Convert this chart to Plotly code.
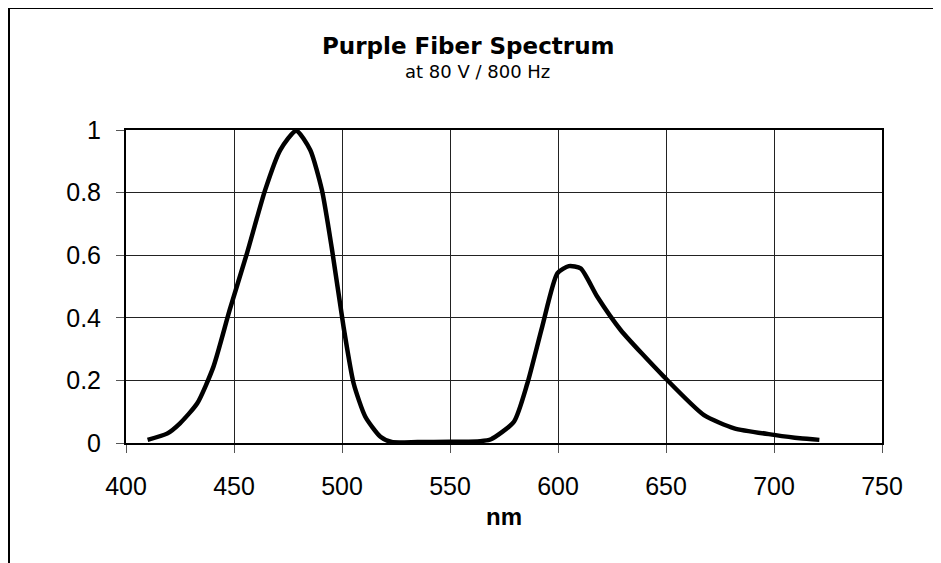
import plotly.graph_objects as go

wavelength_nm = [410, 419, 425, 433, 440.5, 448, 456, 464.4, 471.4, 478.8, 485.3, 490.7, 495.4,
                 500.7, 505.4, 510.8, 517.8, 523, 535, 550, 564, 569, 579.6, 585.8, 592.7,
                 599.7, 605, 610.5, 618.2, 629, 649, 667.6, 681.6, 700, 712, 721]
intensity = [0.01, 0.03, 0.063, 0.127, 0.244, 0.425, 0.606, 0.808, 0.936, 0.998, 0.936, 0.808, 0.617,
             0.372, 0.19, 0.084, 0.02, 0.003, 0.003, 0.004, 0.006, 0.012, 0.068, 0.19, 0.372,
             0.542, 0.565, 0.558, 0.467, 0.361, 0.212, 0.089, 0.047, 0.026, 0.015, 0.01]

x_ticks = [400, 450, 500, 550, 600, 650, 700, 750]
y_ticks = [0, 0.2, 0.4, 0.6, 0.8, 1]
y_tick_labels = ["0", "0.2", "0.4", "0.6", "0.8", "1"]

title_text = "Purple Fiber Spectrum"
subtitle_text = "at 80 V / 800 Hz"
x_title = "nm"

FONT = "Liberation Sans, Arial, sans-serif"
WIDE = "DejaVu Sans, Liberation Sans, sans-serif"

fig = go.Figure()
fig.add_trace(go.Scatter(
    x=wavelength_nm, y=intensity, mode="lines",
    line=dict(color="black", width=4.5, shape="spline", smoothing=0.6),
    showlegend=False, hoverinfo="skip"))

# figure coordinates (page is offset by the 8px body margin)
L, T = 118, 122
W, H = 941, 563
R = W - 874
B = H - 435
pw, ph = W - L - R, H - T - B

def fx(px):
    return (px - L) / pw

def fy(py):
    return (H - B - py) / ph

fig.update_layout(
    width=W, height=H,
    margin=dict(l=L, r=R, t=T, b=B),
    paper_bgcolor="white", plot_bgcolor="white",
    font=dict(family=FONT, color="black", size=24),
    xaxis=dict(range=[400, 750], tickvals=x_ticks, ticktext=[str(v) for v in x_ticks],
               showgrid=True, gridcolor="#222222", gridwidth=1,
               showline=True, linecolor="black", linewidth=2, mirror=True,
               ticks="outside", ticklen=8, tickcolor="#555555", tickwidth=1,
               tickfont=dict(size=25, family=FONT), zeroline=False,
               ticklabelstandoff=12),
    yaxis=dict(range=[0, 1], tickvals=y_ticks, ticktext=y_tick_labels,
               showgrid=True, gridcolor="#222222", gridwidth=1,
               showline=True, linecolor="black", linewidth=2, mirror=True,
               ticks="outside", ticklen=8, tickcolor="#555555", tickwidth=1,
               tickfont=dict(size=25, family=FONT), zeroline=False,
               ticklabelstandoff=10),
    annotations=[
        dict(text="<b>" + title_text + "</b>", x=fx(460), y=fy(38),
             xref="paper", yref="paper", showarrow=False, xanchor="center", yanchor="middle",
             font=dict(size=23, family=WIDE)),
        dict(text=subtitle_text, x=fx(469), y=fy(63),
             xref="paper", yref="paper", showarrow=False, xanchor="center", yanchor="middle",
             font=dict(size=18, family=WIDE)),
        dict(text="<b>" + x_title + "</b>", x=fx(496), y=fy(508),
             xref="paper", yref="paper", showarrow=False, xanchor="center", yanchor="middle",
             font=dict(size=24, family=FONT)),
    ],
    shapes=[
        dict(type="line", xref="paper", yref="paper",
             x0=fx(1), x1=fx(1), y0=fy(0), y1=fy(H),
             line=dict(color="black", width=2)),
        dict(type="line", xref="paper", yref="paper",
             x0=fx(0), x1=fx(927), y0=fy(0), y1=fy(0),
             line=dict(color="black", width=2)),
    ],
)

fig.write_html("out.html")
